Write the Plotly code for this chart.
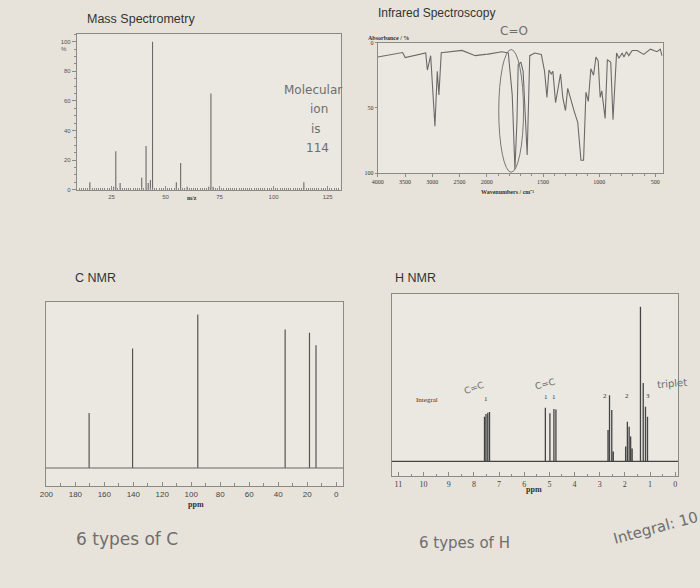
import plotly.graph_objects as go

# ---------------- data ----------------
ms_mz = [15, 26, 27, 29, 39, 41, 42, 43, 44, 55, 57, 60, 70, 71, 72, 114]
ms_int = [5, 2, 26, 4.5, 8, 29.5, 4.5, 6.5, 100, 5, 18, 2, 2, 65, 2, 5]
ms_ticks = [25, 50, 75, 100, 125]
ms_yticks = [0, 20, 40, 60, 80, 100]

ir_wn = [4000, 3545, 3497, 3121, 3091, 3030, 2952, 2909, 2879, 2836, 2455, 2212, 2030, 2000,
         1868, 1809, 1774, 1750, 1732, 1721, 1697, 1677, 1641, 1618, 1574, 1515, 1486, 1465,
         1447, 1427, 1412, 1388, 1368, 1344, 1324, 1300, 1280, 1250, 1221, 1191, 1162, 1139,
         1118, 1097, 1074, 1050, 1029, 1009, 991, 977, 947, 927, 897, 877, 845, 824, 795, 780,
         756, 736, 706, 662, 603, 544, 485, 456, 441]
ir_abs = [11, 7.6, 11.5, 8, 21, 10, 64, 22, 40, 7.7, 6, 10, 9, 9,
          7, 8, 40, 97, 60, 17, 15, 22, 86, 10, 8, 9, 22, 42,
          21, 24, 22, 46, 37, 24, 42, 52, 35, 45, 53, 61, 90, 90,
          38, 45, 20, 25, 11, 14, 42, 37, 58, 13, 15, 59, 8, 12, 8, 11,
          7, 10, 6, 6, 9, 5, 7, 5, 10]
ir_left_ticks = [4000, 3500, 3000, 2500]
ir_right_ticks = [2000, 1500, 1000, 500]
ir_yticks = [0, 50, 100]

c_ppm = [170.5, 140.5, 95.5, 35.2, 18.4, 13.9]
c_int = [55.7, 120.7, 155, 140, 136.7, 124]
c_ticks = [200, 180, 160, 140, 120, 100, 80, 60, 40, 20, 0]

h_ppm = [7.58, 7.52, 7.45, 7.38, 5.16, 4.98, 4.82, 4.74, 2.67, 2.61, 2.52, 2.46,
         1.97, 1.90, 1.83, 1.77, 1.71, 1.38, 1.27, 1.18, 1.10]
h_int = [45, 47.7, 49, 49.7, 54, 48.4, 52.7, 52.4, 31.7, 66.7, 51.7, 10,
         15, 40, 35, 25, 13, 156, 79, 55, 45]
h_ticks = list(range(0, 12))

# ---------------- helpers ----------------
W, H = 700, 588
def px(x): return x / W
def py(y): return 1 - y / H

def sticks(xs, ys):
    X, Y = [], []
    for x, y in zip(xs, ys):
        X += [x, x, None]
        Y += [0, y, None]
    return X, Y

def continuous(xs, ys, xstart, xend):
    X, Y = [xstart], [0]
    for x, y in sorted(zip(xs, ys), reverse=True):
        X += [x, x, x]
        Y += [0, y, 0]
    X.append(xend); Y.append(0)
    return X, Y

BG = "#e7e3db"
PLOT_BG = "#ebe8e1"
LINE = "#8a8a88"
HAND = "#6e6e6e"

fig = go.Figure()

# Mass spec
mx, my = sticks(ms_mz, ms_int)
fig.add_trace(go.Scatter(x=mx, y=my, mode="lines", line=dict(color="#6a6a6a", width=1.1),
                         xaxis="x", yaxis="y", hoverinfo="skip", showlegend=False))

# IR (two scale segments)
left = [(w, a) for w, a in zip(ir_wn, ir_abs) if w >= 2000]
right = [(w, a) for w, a in zip(ir_wn, ir_abs) if w <= 2000]
fig.add_trace(go.Scatter(x=[p[0] for p in left], y=[p[1] for p in left], mode="lines",
                         line=dict(color="#6a6a6a", width=1.1), xaxis="x2", yaxis="y2",
                         hoverinfo="skip", showlegend=False))
fig.add_trace(go.Scatter(x=[p[0] for p in right], y=[p[1] for p in right], mode="lines",
                         line=dict(color="#6a6a6a", width=1.1), xaxis="x3", yaxis="y3",
                         hoverinfo="skip", showlegend=False))

# C NMR
cx, cy = sticks(c_ppm, c_int)
fig.add_trace(go.Scatter(x=cx, y=cy, mode="lines", line=dict(color="#555555", width=1.2),
                         xaxis="x4", yaxis="y4", hoverinfo="skip", showlegend=False))

# H NMR
H_RANGE = [11.27, -0.12]
hx, hy = continuous(h_ppm, h_int, H_RANGE[0], H_RANGE[1])
fig.add_trace(go.Scatter(x=hx, y=hy, mode="lines", line=dict(color="#444444", width=1.3),
                         xaxis="x5", yaxis="y5", hoverinfo="skip", showlegend=False))

def axstyle(**kw):
    d = dict(showline=True, linecolor=LINE, linewidth=1, mirror=True, showgrid=False,
             zeroline=False, tickcolor=LINE, ticklen=3)
    d.update(kw)
    return d

tiny = dict(family="Liberation Sans", size=6, color="#555")
irfont = dict(family="Liberation Serif", size=6, color="#333")

fig.update_layout(
    width=W, height=H, margin=dict(l=0, r=0, t=0, b=0),
    paper_bgcolor=BG, plot_bgcolor=PLOT_BG, showlegend=False,
    xaxis=axstyle(domain=[px(71.5), px(337.5)], range=[9, 131], anchor="y",
                  tickvals=ms_ticks, ticks="inside", ticklen=4, tickfont=tiny,
                  minor=dict(dtick=1, ticks="inside", ticklen=2, tickcolor=LINE)),
    yaxis=axstyle(domain=[py(189.3), py(31.7)], range=[-0.5, 105], anchor="x",
                  tickvals=ms_yticks, ticks="outside", ticklen=4, tickfont=tiny,
                  minor=dict(dtick=5, ticks="outside", ticklen=2, tickcolor=LINE)),
    xaxis2=axstyle(domain=[px(375), px(485)], range=[4000, 2000], anchor="y2",
                   tickvals=ir_left_ticks, ticks="outside", tickfont=irfont),
    yaxis2=dict(domain=[py(172), py(40)], range=[100, 0], anchor="x2", showline=True,
                linecolor=LINE, mirror=False, showgrid=False, zeroline=False,
                tickvals=ir_yticks, ticks="outside", ticklen=2, tickcolor=LINE,
                tickfont=irfont),
    xaxis3=axstyle(domain=[px(485), px(663)], range=[2000, 429], anchor="y3",
                   tickvals=ir_right_ticks, ticks="outside", tickfont=irfont,
                   minor=dict(dtick=100, ticks="outside", ticklen=2, tickcolor=LINE)),
    yaxis3=dict(domain=[py(172), py(40)], range=[100, 0], anchor="x3", side="right",
                showline=True, linecolor=LINE, showgrid=False, zeroline=False,
                showticklabels=False, ticks=""),
    xaxis4=axstyle(domain=[px(40), px(340)], range=[200.5, -4.8], anchor="y4",
                   tickvals=c_ticks, ticks="inside", ticklen=4,
                   tickfont=dict(family="Liberation Sans", size=8, color="#444"),
                   minor=dict(dtick=10, ticks="inside", ticklen=3, tickcolor=LINE)),
    yaxis4=axstyle(domain=[py(488), py(302)], range=[-18.2, 167.8], anchor="x4",
                   showticklabels=False, ticks=""),
    xaxis5=axstyle(domain=[px(389), px(678)], range=H_RANGE, anchor="y5",
                   tickvals=h_ticks, ticks="inside", ticklen=4,
                   tickfont=dict(family="Liberation Serif", size=8, color="#444"),
                   minor=dict(dtick=0.5, ticks="inside", ticklen=2, tickcolor=LINE)),
    yaxis5=axstyle(domain=[py(478), py(294)], range=[-15, 169], anchor="x5",
                   showticklabels=False, ticks=""),
)

# C NMR baseline across the box
fig.add_shape(type="line", xref="x4 domain", x0=0, x1=1, yref="y4", y0=0, y1=0,
              line=dict(color="#666", width=1))
# handwritten circle around the C=O band
fig.add_shape(type="circle", xref="paper", yref="paper", x0=px(497), x1=px(522),
              y0=py(171), y1=py(47), line=dict(color="#777", width=1))

def note(x, y, text, size=12, family="Liberation Sans", color="#333", xanchor="left",
         angle=0, bold=False):
    if bold:
        text = "<b>" + text + "</b>"
    fig.add_annotation(x=px(x), y=py(y), xref="paper", yref="paper", text=text,
                       showarrow=False, xanchor=xanchor, yanchor="middle", textangle=angle,
                       font=dict(family=family, size=size, color=color))

# titles
note(80, 16, "Mass Spectrometry", 12.5)
note(373, 10, "Infrared Spectroscopy", 12)
note(68, 278, "C NMR", 12.5)
note(390, 278, "H NMR", 12.5)

# MS extras
note(58, 46, "%", 6, color="#555", xanchor="center")
note(188, 197, "m/z", 6, family="Liberation Serif", color="#333", xanchor="center", bold=True)
note(310, 88, "Molecular", 12, family="DejaVu Sans", color=HAND, xanchor="center")
note(316, 107, "ion", 12, family="DejaVu Sans", color=HAND, xanchor="center")
note(313, 127, "is", 12, family="DejaVu Sans", color=HAND, xanchor="center")
note(314, 146, "114", 12, family="DejaVu Sans", color=HAND, xanchor="center")

# IR extras
note(363, 35, "Absorbance / %", 6, family="Liberation Serif", color="#333", bold=True)
note(506, 191, "Wavenumbers / cm⁻¹", 6, family="Liberation Serif", color="#333",
     xanchor="center", bold=True)
note(512, 28, "C=O", 12, family="DejaVu Sans", color=HAND, xanchor="center")

# C NMR extras
note(192, 507, "ppm", 8, family="Liberation Serif", color="#333", xanchor="center", bold=True)
note(122, 542, "6 types of C", 17, family="DejaVu Sans", color=HAND, xanchor="center")

# H NMR extras
note(533, 492, "ppm", 8, family="Liberation Serif", color="#333", xanchor="center", bold=True)
note(412, 401, "Integral", 7, family="Liberation Serif", color="#333")
for xx, yy, t in [(484, 400, "1"), (545, 398, "1"), (553, 398, "1"),
                  (604, 397, "2"), (626, 397, "2"), (648, 397, "3")]:
    note(xx, yy, t, 7, family="Liberation Serif", color="#333", xanchor="center")
note(472, 389, "C=C", 9, family="DejaVu Sans", color=HAND, xanchor="center", angle=-20)
note(544, 385, "C=C", 9, family="DejaVu Sans", color=HAND, xanchor="center", angle=-15)
note(672, 384, "triplet", 10, family="DejaVu Sans", color=HAND, xanchor="center", angle=-5)
note(462, 546, "6 types of H", 15, family="DejaVu Sans", color=HAND, xanchor="center")
note(655, 530, "Integral: 10", 15, family="DejaVu Sans", color=HAND, xanchor="center", angle=-15)

fig.write_html("out.html")
